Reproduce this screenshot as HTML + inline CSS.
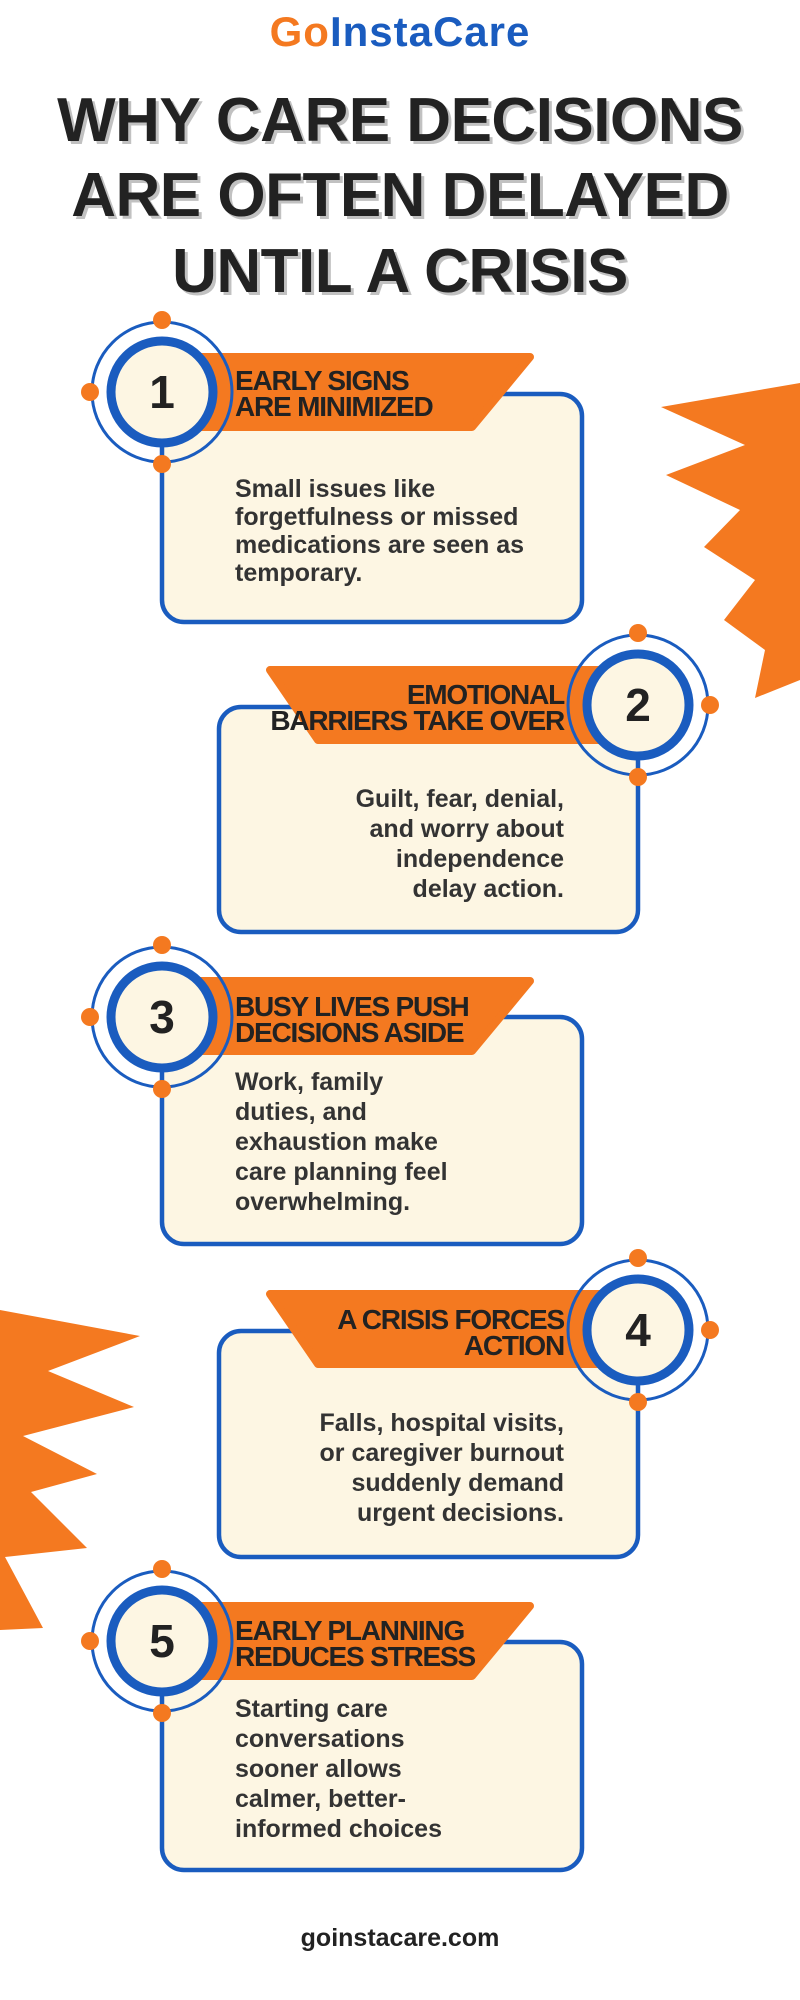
<!DOCTYPE html>
<html><head><meta charset="utf-8"><style>
html,body{margin:0;padding:0;background:#fff;}
svg{display:block;}
.t{font-family:"Liberation Sans",sans-serif;font-weight:bold;fill:#242424;}
.h{font-size:28px;letter-spacing:-1.2px;fill:#222;}
.b{font-size:25px;fill:#333;}
.n{font-size:46px;fill:#222;text-anchor:middle;}
</style></head><body>
<svg width="800" height="2000" viewBox="0 0 800 2000" xmlns="http://www.w3.org/2000/svg">
<defs>
<g id="ring">
  <circle cx="0" cy="0" r="70" fill="none" stroke="#1a5cbf" stroke-width="3"/>
  <circle cx="0" cy="0" r="51" fill="#fdf6e3" stroke="#1a5cbf" stroke-width="9"/>
  <circle cx="0" cy="-72" r="9" fill="#f47920"/>
  <circle cx="0" cy="72" r="9" fill="#f47920"/>
</g>
</defs>
<polygon fill="#f47920" points="800,383 661,407 745,445 666,475 740,510 704,547 755,580 724,620 765,650 755,698 800,680"/>
<polygon fill="#f47920" points="0,1310 140,1336 48,1371 134,1407 23,1436 97,1474 31,1492 87,1548 5,1557 43,1628 0,1630"/>

<text x="400" y="46" text-anchor="middle" class="t" style="font-size:42px;letter-spacing:1px"><tspan fill="#f47920">Go</tspan><tspan fill="#1a5cbf">InstaCare</tspan></text>

<g class="t" style="font-size:62px;letter-spacing:-0.5px" text-anchor="middle">
<text x="403" y="144" fill="#999" opacity="0.6">WHY CARE DECISIONS</text>
<text x="400" y="141" fill="#222">WHY CARE DECISIONS</text>
<text x="403" y="219" fill="#999" opacity="0.6">ARE OFTEN DELAYED</text>
<text x="400" y="216" fill="#222">ARE OFTEN DELAYED</text>
<text x="403" y="295" fill="#999" opacity="0.6">UNTIL A CRISIS</text>
<text x="400" y="292" fill="#222">UNTIL A CRISIS</text>
</g>

<rect x="162" y="394" width="420" height="228" rx="22" fill="#fdf6e3" stroke="#1a5cbf" stroke-width="4.5"/>
<path d="M200,357 L530,357 L472,427 L200,427 Z" fill="#f47920" stroke="#f47920" stroke-width="8" stroke-linejoin="round"/>
<g transform="translate(162,392)"><use href="#ring"/><circle cx="-72" cy="0" r="9" fill="#f47920"/></g>
<text x="162" y="408" class="t n">1</text>
<text class="t h"><tspan x="235" y="390">EARLY SIGNS</tspan><tspan x="235" y="416">ARE MINIMIZED</tspan></text>
<text class="t b"><tspan x="235" y="497">Small issues like</tspan><tspan x="235" y="525">forgetfulness or missed</tspan><tspan x="235" y="553">medications are seen as</tspan><tspan x="235" y="581">temporary.</tspan></text>

<rect x="219" y="707" width="419" height="225" rx="22" fill="#fdf6e3" stroke="#1a5cbf" stroke-width="4.5"/>
<path d="M270,670 L600,670 L600,740 L318,740 Z" fill="#f47920" stroke="#f47920" stroke-width="8" stroke-linejoin="round"/>
<g transform="translate(638,705)"><use href="#ring"/><circle cx="72" cy="0" r="9" fill="#f47920"/></g>
<text x="638" y="721" class="t n">2</text>
<text class="t h" text-anchor="end"><tspan x="564" y="704">EMOTIONAL</tspan><tspan x="564" y="730">BARRIERS TAKE OVER</tspan></text>
<text class="t b" text-anchor="end"><tspan x="564" y="807">Guilt, fear, denial,</tspan><tspan x="564" y="837">and worry about</tspan><tspan x="564" y="867">independence</tspan><tspan x="564" y="897">delay action.</tspan></text>

<rect x="162" y="1017" width="420" height="227" rx="22" fill="#fdf6e3" stroke="#1a5cbf" stroke-width="4.5"/>
<path d="M200,981 L530,981 L472,1051 L200,1051 Z" fill="#f47920" stroke="#f47920" stroke-width="8" stroke-linejoin="round"/>
<g transform="translate(162,1017)"><use href="#ring"/><circle cx="-72" cy="0" r="9" fill="#f47920"/></g>
<text x="162" y="1033" class="t n">3</text>
<text class="t h"><tspan x="235" y="1016">BUSY LIVES PUSH</tspan><tspan x="235" y="1042">DECISIONS ASIDE</tspan></text>
<text class="t b"><tspan x="235" y="1090">Work, family</tspan><tspan x="235" y="1120">duties, and</tspan><tspan x="235" y="1150">exhaustion make</tspan><tspan x="235" y="1180">care planning feel</tspan><tspan x="235" y="1210">overwhelming.</tspan></text>

<rect x="219" y="1331" width="419" height="226" rx="22" fill="#fdf6e3" stroke="#1a5cbf" stroke-width="4.5"/>
<path d="M270,1294 L600,1294 L600,1364 L318,1364 Z" fill="#f47920" stroke="#f47920" stroke-width="8" stroke-linejoin="round"/>
<g transform="translate(638,1330)"><use href="#ring"/><circle cx="72" cy="0" r="9" fill="#f47920"/></g>
<text x="638" y="1346" class="t n">4</text>
<text class="t h" text-anchor="end"><tspan x="564" y="1329">A CRISIS FORCES</tspan><tspan x="564" y="1355">ACTION</tspan></text>
<text class="t b" text-anchor="end"><tspan x="564" y="1431">Falls, hospital visits,</tspan><tspan x="564" y="1461">or caregiver burnout</tspan><tspan x="564" y="1491">suddenly demand</tspan><tspan x="564" y="1521">urgent decisions.</tspan></text>

<rect x="162" y="1642" width="420" height="228" rx="22" fill="#fdf6e3" stroke="#1a5cbf" stroke-width="4.5"/>
<path d="M200,1606 L530,1606 L472,1676 L200,1676 Z" fill="#f47920" stroke="#f47920" stroke-width="8" stroke-linejoin="round"/>
<g transform="translate(162,1641)"><use href="#ring"/><circle cx="-72" cy="0" r="9" fill="#f47920"/></g>
<text x="162" y="1657" class="t n">5</text>
<text class="t h"><tspan x="235" y="1640">EARLY PLANNING</tspan><tspan x="235" y="1666">REDUCES STRESS</tspan></text>
<text class="t b"><tspan x="235" y="1717">Starting care</tspan><tspan x="235" y="1747">conversations</tspan><tspan x="235" y="1777">sooner allows</tspan><tspan x="235" y="1807">calmer, better-</tspan><tspan x="235" y="1837">informed choices</tspan></text>

<text x="400" y="1946" text-anchor="middle" class="t" style="font-size:25px;fill:#222">goinstacare.com</text>
</svg>
</body></html>
